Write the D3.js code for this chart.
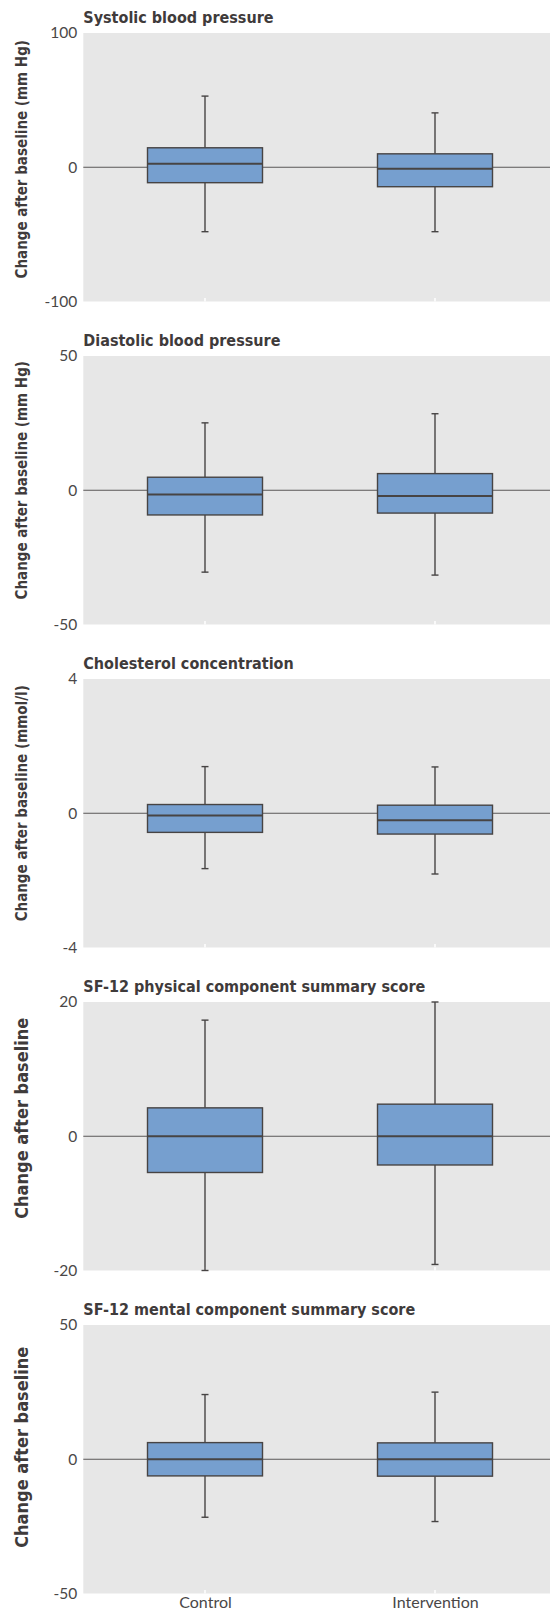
<!DOCTYPE html>
<html>
<head>
<meta charset="utf-8">
<script src="https://cdn.jsdelivr.net/npm/d3@7"></script>
<style>
  html, body { margin: 0; padding: 0; background: #fff; }
  svg { display: block; }
  .tick text { font-family: Lato, "Open Sans", sans-serif; font-weight: 400; fill: #4a4747; }
</style>
</head>
<body>
<script>
// ---- Data ----
const categories = ["Control", "Intervention"];
const panelTitles = [
  "Systolic blood pressure",
  "Diastolic blood pressure",
  "Cholesterol concentration",
  "SF-12 physical component summary score",
  "SF-12 mental component summary score"
];
const yLabels = [
  "Change after baseline (mm Hg)",
  "Change after baseline (mm Hg)",
  "Change after baseline (mmol/l)",
  "Change after baseline",
  "Change after baseline"
];
const yDomains = [[-100, 100], [-50, 50], [-4, 4], [-20, 20], [-50, 50]];
const yTickLabels = [[-100, 0, 100], [-50, 0, 50], [-4, 0, 4], [-20, 0, 20], [-50, 0, 50]];
// per panel: [Control, Intervention]
const whiskerLow  = [[-48, -48], [-30.5, -31.6], [-1.65, -1.81], [-20, -19.1], [-21.6, -23.2]];
const q1          = [[-11.5, -14.5], [-9.2, -8.5], [-0.57, -0.62], [-5.4, -4.28], [-6.2, -6.3]];
const median      = [[2.6, -1.1], [-1.6, -2.1], [-0.07, -0.21], [0, 0], [0, 0]];
const q3          = [[14.5, 10], [4.85, 6.2], [0.26, 0.24], [4.23, 4.78], [6.2, 6.1]];
const whiskerHigh = [[53, 40.5], [25.1, 28.5], [1.39, 1.38], [17.3, 20], [24.1, 25]];

// ---- Layout ----
const W = 550, H = 1614;
const plotLeft = 83.3, plotRight = 550;
const firstTop = 33, panelStep = 323, plotH = 268.5;
const boxFill = "#769fcf", stroke = "#474444", bg = "#e7e7e7";
const labelSizes = [15, 15, 15, 18, 18];
const labelShift = [-8, -10, -10, -18, -12];

const svg = d3.select("body").append("svg").attr("width", W).attr("height", H);

const x = d3.scalePoint().domain(categories).range([90, 550]).padding(0.5);
const boxW = x.step() * 0.5;
const capW = 7;

panelTitles.forEach((title, i) => {
  const top = firstTop + i * panelStep;
  const bottom = top + plotH;
  const y = d3.scaleLinear().domain(yDomains[i]).range([bottom, top]);
  const g = svg.append("g");

  g.append("rect").attr("x", plotLeft).attr("y", top)
    .attr("width", plotRight - plotLeft).attr("height", plotH).attr("fill", bg);

  // white tick marks at the bottom
  g.selectAll(".wt").data(categories).join("line")
    .attr("x1", d => x(d)).attr("x2", d => x(d))
    .attr("y1", bottom - 3.5).attr("y2", bottom)
    .attr("stroke", "#fff").attr("stroke-width", 1.5);

  // zero line
  g.append("line").attr("x1", plotLeft).attr("x2", plotRight)
    .attr("y1", y(0)).attr("y2", y(0)).attr("stroke", "#5a5757").attr("stroke-width", 1.2);

  // title
  g.append("text").attr("x", plotLeft).attr("y", top - 10)
    .attr("font-family", "'DejaVu Sans Condensed', 'DejaVu Sans', sans-serif")
    .attr("font-weight", "bold").attr("font-size", 16).attr("fill", "#3f3b3b")
    .text(title);

  // y label
  const cy = (top + bottom) / 2 + labelShift[i];
  g.append("text")
    .attr("transform", `translate(${22 + labelSizes[i] * 0.36},${cy}) rotate(-90)`)
    .attr("text-anchor", "middle")
    .attr("font-family", "'DejaVu Sans Condensed', 'DejaVu Sans', sans-serif")
    .attr("font-weight", "bold").attr("font-size", labelSizes[i]).attr("fill", "#3f3b3b")
    .text(yLabels[i]);

  // y axis
  const ax = g.append("g").attr("transform", `translate(${plotLeft - 1},0)`)
    .call(d3.axisLeft(y).tickValues(yTickLabels[i]).tickSize(0).tickPadding(5).tickFormat(d => String(d)));
  ax.select(".domain").remove();
  ax.selectAll("text").attr("font-size", 15.5);

  // boxes
  categories.forEach((c, j) => {
    const cx = x(c);
    const bg2 = g.append("g");
    bg2.append("line").attr("x1", cx).attr("x2", cx)
      .attr("y1", y(whiskerHigh[i][j])).attr("y2", y(q3[i][j]))
      .attr("stroke", stroke).attr("stroke-width", 1.4);
    bg2.append("line").attr("x1", cx).attr("x2", cx)
      .attr("y1", y(q1[i][j])).attr("y2", y(whiskerLow[i][j]))
      .attr("stroke", stroke).attr("stroke-width", 1.4);
    [whiskerHigh[i][j], whiskerLow[i][j]].forEach(v => {
      bg2.append("line").attr("x1", cx - capW / 2).attr("x2", cx + capW / 2)
        .attr("y1", y(v)).attr("y2", y(v))
        .attr("stroke", stroke).attr("stroke-width", 1.4);
    });
    bg2.append("rect")
      .attr("x", cx - boxW / 2).attr("width", boxW)
      .attr("y", y(q3[i][j])).attr("height", y(q1[i][j]) - y(q3[i][j]))
      .attr("fill", boxFill).attr("stroke", stroke).attr("stroke-width", 1.4);
    bg2.append("line").attr("x1", cx - boxW / 2).attr("x2", cx + boxW / 2)
      .attr("y1", y(median[i][j])).attr("y2", y(median[i][j]))
      .attr("stroke", stroke).attr("stroke-width", 2);
  });

  // x axis on last panel
  if (i === panelTitles.length - 1) {
    const xa = g.append("g").attr("transform", `translate(0,${bottom})`)
      .call(d3.axisBottom(x).tickSize(0).tickPadding(3));
    xa.select(".domain").remove();
    xa.selectAll("text").attr("font-size", 16);
  }
});
</script>
</body>
</html>
